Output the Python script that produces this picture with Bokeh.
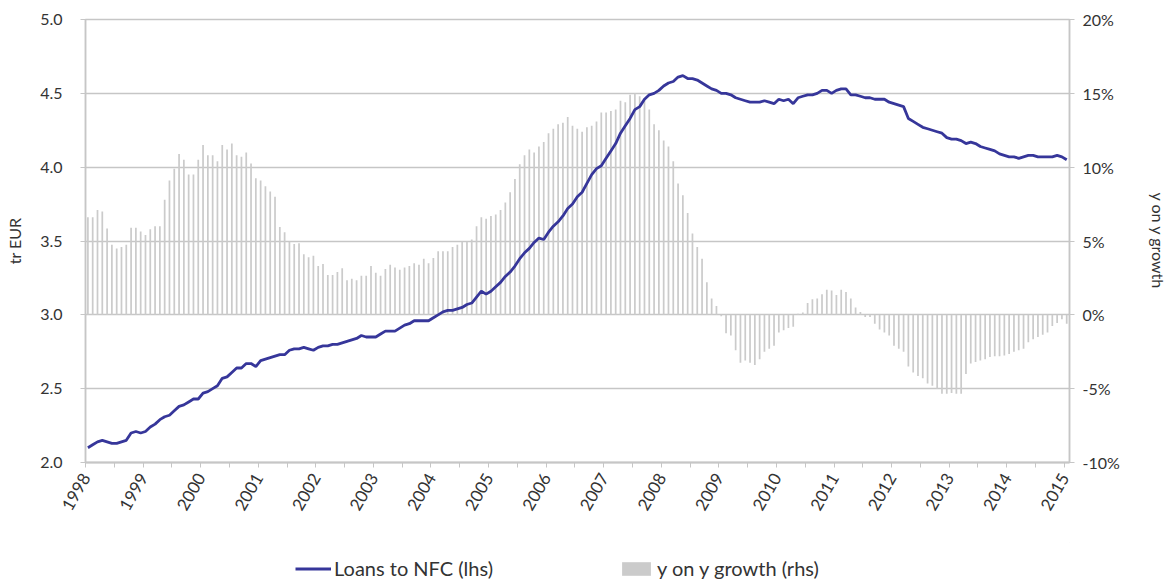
from bokeh.plotting import figure
from bokeh.layouts import column
from bokeh.models import (LinearAxis, Range1d, FixedTicker, PrintfTickFormatter,
                          Legend, LegendItem, ColumnDataSource)
from bokeh.embed import file_html
from bokeh.resources import INLINE
import math

# Monthly data, Jan 1998 .. Jan 2015
start_year = 1998
loans = [
    2.10, 2.12, 2.14, 2.15, 2.14, 2.13, 2.13, 2.14, 2.15, 2.20, 2.21, 2.20,
    2.21, 2.24, 2.26, 2.29, 2.31, 2.32, 2.35, 2.38, 2.39, 2.41, 2.43, 2.43,
    2.47, 2.48, 2.50, 2.52, 2.57, 2.58, 2.61, 2.64, 2.64, 2.67, 2.67, 2.65,
    2.69, 2.70, 2.71, 2.72, 2.73, 2.73, 2.76, 2.77, 2.77, 2.78, 2.77, 2.76,
    2.78, 2.79, 2.79, 2.80, 2.80, 2.81, 2.82, 2.83, 2.84, 2.86, 2.85, 2.85,
    2.85, 2.87, 2.89, 2.89, 2.89, 2.91, 2.93, 2.94, 2.96, 2.96, 2.96, 2.96,
    2.98, 3.00, 3.02, 3.03, 3.03, 3.04, 3.05, 3.07, 3.08, 3.12, 3.16, 3.14,
    3.16, 3.19, 3.22, 3.26, 3.29, 3.33, 3.38, 3.42, 3.45, 3.49, 3.52, 3.51,
    3.56, 3.60, 3.63, 3.67, 3.72, 3.75, 3.80, 3.83, 3.89, 3.95, 3.99, 4.01,
    4.06, 4.11, 4.16, 4.23, 4.28, 4.33, 4.39, 4.41, 4.46, 4.49, 4.50, 4.52,
    4.55, 4.57, 4.58, 4.61, 4.62, 4.60, 4.60, 4.59, 4.57, 4.55, 4.53, 4.52,
    4.50, 4.50, 4.49, 4.47, 4.46, 4.45, 4.44, 4.44, 4.44, 4.45, 4.44, 4.43,
    4.46, 4.45, 4.46, 4.43, 4.47, 4.48, 4.49, 4.49, 4.50, 4.52, 4.52, 4.50,
    4.52, 4.53, 4.53, 4.49, 4.49, 4.48, 4.47, 4.47, 4.46, 4.46, 4.46, 4.44,
    4.43, 4.42, 4.41, 4.33, 4.31, 4.29, 4.27, 4.26, 4.25, 4.24, 4.23, 4.20,
    4.19, 4.19, 4.18, 4.16, 4.17, 4.16, 4.14, 4.13, 4.12, 4.11, 4.09, 4.08,
    4.07, 4.07, 4.06, 4.07, 4.08, 4.08, 4.07, 4.07, 4.07, 4.07, 4.08, 4.07, 4.05,
]
growth = [
    6.6, 6.6, 7.1, 7.0, 5.85, 4.75, 4.5, 4.6, 4.75, 5.9, 5.9, 5.65,
    5.4, 5.8, 6.0, 6.0, 7.8, 9.1, 9.9, 10.9, 10.5, 9.5, 9.5, 10.5,
    11.5, 10.8, 10.8, 10.4, 11.5, 11.2, 11.6, 10.8, 10.7, 11.0, 10.25, 9.25,
    9.1, 8.7, 8.35, 8.0, 5.95, 5.6, 4.95, 4.8, 4.85, 4.1, 3.9, 4.0,
    3.3, 3.45, 2.7, 2.7, 2.9, 3.15, 2.35, 2.45, 2.35, 2.65, 2.65, 3.3,
    2.85, 2.65, 3.1, 3.4, 3.2, 3.05, 3.2, 3.3, 3.5, 3.4, 3.8, 3.5,
    3.85, 4.3, 4.3, 4.3, 4.6, 4.75, 4.95, 4.95, 5.1, 6.0, 6.6, 6.5,
    6.7, 6.8, 7.1, 7.6, 8.3, 9.2, 10.2, 10.8, 11.2, 11.0, 11.4, 11.7,
    12.3, 12.6, 12.9, 13.0, 13.4, 12.8, 12.6, 12.4, 12.7, 12.8, 13.1, 13.7,
    13.7, 13.8, 13.9, 14.5, 14.4, 14.9, 15.0, 14.8, 14.5, 13.9, 12.9, 12.5,
    11.8, 11.4, 10.4, 8.9, 8.1, 6.9, 5.5, 4.6, 3.8, 2.2, 1.1, 0.6,
    -0.1, -1.25, -1.4, -2.4, -3.25, -3.1, -3.25, -3.4, -3.0, -2.5, -2.3, -2.1,
    -1.2, -1.05, -0.9, -0.8, 0.07, 0.15, 0.8, 1.05, 1.1, 1.4, 1.7, 1.65,
    1.35, 1.7, 1.55, 1.1, 0.5, 0.2, -0.15, -0.15, -0.6, -1.0, -1.2, -1.4,
    -2.1, -2.3, -2.5, -3.5, -3.9, -4.15, -4.3, -4.65, -4.8, -5.0, -5.35, -5.35,
    -5.3, -5.35, -5.35, -4.0, -3.3, -3.2, -3.1, -3.0, -2.85, -2.8, -2.8, -2.75,
    -2.65, -2.5, -2.4, -2.3, -1.85, -1.65, -1.5, -1.35, -1.2, -0.75, -0.55, -0.3, -0.6,
]
years = list(range(1998, 2016))
left_ticks = [2.0, 2.5, 3.0, 3.5, 4.0, 4.5, 5.0]
right_ticks = [-10, -5, 0, 5, 10, 15, 20]
series_names = ["Loans to NFC (lhs)", "y on y growth (rhs)"]

x = [start_year + (i + 0.5) / 12.0 for i in range(len(loans))]
src = ColumnDataSource(dict(x=x, loans=loans, growth=growth))

FONT = "Lato"
TXT = "#333333"
GRID = "#c6c6c6"
LINE_COLOR = "#36369a"
BAR_COLOR = "#cbcbcb"

p = figure(width=1170, height=542, output_backend="svg", toolbar_location=None,
           x_range=Range1d(1998, 2015.09), y_range=Range1d(2.0, 5.0),
           min_border_left=85, min_border_right=98, min_border_top=19,
           min_border_bottom=80)
p.extra_y_ranges = {"growth": Range1d(-10, 20)}

p.outline_line_color = GRID
p.outline_line_width = 1.5
p.xgrid.grid_line_color = None
p.ygrid.grid_line_color = GRID
p.ygrid.grid_line_width = 1.5
p.ygrid.ticker = FixedTicker(ticks=left_ticks)

bars = p.vbar(x="x", top="growth", bottom=0, width=0.36 / 12, source=src,
              y_range_name="growth", fill_color=BAR_COLOR, line_color=None)
line = p.line(x="x", y="loans", source=src, line_color=LINE_COLOR, line_width=2.8)

# x axis
xa = p.xaxis[0]
xa.ticker = FixedTicker(ticks=years, minor_ticks=[y + 0.5 for y in years])
xa.major_label_orientation = math.radians(60)
xa.major_label_text_font = FONT
xa.major_label_text_font_size = "17px"
xa.major_label_text_color = TXT
xa.axis_line_color = GRID
xa.axis_line_width = 2
xa.major_tick_line_color = GRID
xa.minor_tick_line_color = GRID
xa.major_tick_in = 0
xa.major_tick_out = 5
xa.minor_tick_in = 0
xa.minor_tick_out = 5
xa.major_label_standoff = 7

# left axis
ya = p.yaxis[0]
ya.ticker = FixedTicker(ticks=left_ticks)
ya.formatter = PrintfTickFormatter(format="%.1f")
ya.axis_label = "tr EUR"
ya.axis_label_text_font = FONT
ya.axis_label_text_font_size = "16px"
ya.axis_label_text_font_style = "normal"
ya.axis_label_text_color = TXT
ya.axis_label_standoff = 13
ya.major_label_text_font = FONT
ya.major_label_text_font_size = "16px"
ya.major_label_text_color = TXT
ya.axis_line_color = GRID
ya.axis_line_width = 1.5
ya.major_tick_line_color = GRID
ya.major_tick_in = 0
ya.major_tick_out = 5
ya.minor_tick_line_color = None
ya.major_label_standoff = 18

# right axis
ra = LinearAxis(y_range_name="growth", ticker=FixedTicker(ticks=right_ticks),
                formatter=PrintfTickFormatter(format="%d%%"))
ra.axis_label = "y on y growth"
ra.axis_label_text_font = FONT
ra.axis_label_text_font_size = "16px"
ra.axis_label_text_font_style = "normal"
ra.axis_label_text_color = TXT
ra.axis_label_standoff = 26
ra.major_label_text_font = FONT
ra.major_label_text_font_size = "16px"
ra.major_label_text_color = TXT
ra.axis_line_color = GRID
ra.axis_line_width = 1.5
ra.major_tick_line_color = GRID
ra.major_tick_in = 0
ra.major_tick_out = 5
ra.minor_tick_line_color = None
ra.major_label_standoff = 8
p.add_layout(ra, "right")

# legend strip below the chart (sample glyphs sit outside its visible range)
pl = figure(width=1170, height=42, output_backend="svg", toolbar_location=None,
            x_range=Range1d(0, 1), y_range=Range1d(0, 1),
            x_axis_location=None, y_axis_location=None, min_border=0)
pl.outline_line_color = None
pl.grid.grid_line_color = None
lg_line = pl.line(x=[5, 6], y=[5, 6], line_color=LINE_COLOR, line_width=2.8)
lg_bar = pl.vbar(x=[5], top=[6], bottom=[5], width=0.1,
                 fill_color=BAR_COLOR, line_color=None)
legend = Legend(items=[LegendItem(label=series_names[0], renderers=[lg_line]),
                       LegendItem(label=series_names[1], renderers=[lg_bar])],
                orientation="horizontal", location=(210, 4),
                border_line_color=None, background_fill_alpha=0,
                label_text_font=FONT, label_text_font_size="20px",
                label_text_color=TXT, glyph_width=36, glyph_height=17,
                label_standoff=3, spacing=125, padding=0, margin=0)
pl.add_layout(legend, "center")

open("out.html", "w").write(file_html(column(p, pl), INLINE))
